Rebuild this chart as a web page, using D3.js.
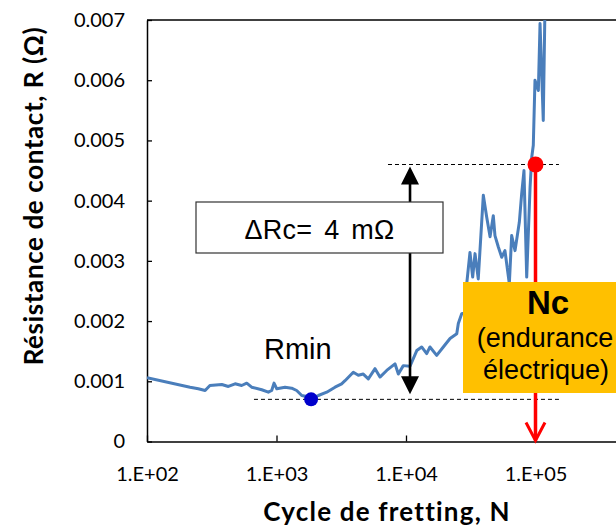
<!DOCTYPE html>
<html>
<head>
<meta charset="utf-8">
<script src="https://cdn.jsdelivr.net/npm/d3@7"></script>
<style>
  body { margin: 0; background: #fff; }
  svg { display: block; }
</style>
</head>
<body>
<svg class="svg" width="616" height="527"></svg>
<script>
// valeurs (N, R en ohm)
const cycles = [100, 215, 249, 281, 306, 378, 425, 479, 538, 589, 643, 769, 865, 918, 957,
  1005, 1164, 1309, 1432, 1567, 1710, 1871, 2104, 2443, 2831, 3184, 3381, 3917, 4285, 4677,
  5117, 5768, 6295, 7096, 8222, 8730, 9528, 10740, 12110, 13210, 14450, 15310, 17260, 19410,
  21880, 24660, 25350, 26920, 28580, 29440, 31190, 32730, 34120, 36140, 39540, 41980, 44570,
  47210, 48640, 51640, 54830, 58080, 62810, 65460, 69500, 74990, 78160, 81470, 85510, 90780,
  93540, 96160, 99080, 105200, 108400, 114800, 118300];
const resistance = [0.00106, 0.00090, 0.000875, 0.000847, 0.00093, 0.000947, 0.000914, 0.000958,
  0.00093, 0.000969, 0.000902, 0.000859, 0.000819, 0.000847, 0.000969,
  0.000875, 0.000902, 0.000886, 0.000847, 0.000764, 0.000748, 0.000709, 0.000764, 0.000819,
  0.000902, 0.000958, 0.00101, 0.00115, 0.0011, 0.00112,
  0.00104, 0.00121, 0.00107, 0.00118, 0.00129, 0.00112, 0.00126, 0.00125, 0.00151, 0.00157,
  0.00146, 0.00157, 0.00143, 0.00157,
  0.00171, 0.00179, 0.00196, 0.00212, 0.00215, 0.00262, 0.00314, 0.00273, 0.00312, 0.0027,
  0.00409, 0.00373, 0.0034,
  0.00375, 0.00342, 0.00323, 0.00306, 0.00317, 0.00262, 0.00342, 0.00317, 0.00364, 0.00411,
  0.0045, 0.00273, 0.00422,
  0.00472, 0.00492, 0.0060, 0.00583, 0.00694, 0.00533, 0.0072];

const xTicks = [1e2, 1e3, 1e4, 1e5];
const xTickLabels = ["1.E+02", "1.E+03", "1.E+04", "1.E+05"];
const yTicks = [0, 0.001, 0.002, 0.003, 0.004, 0.005, 0.006, 0.007];
const yTickLabels = ["0", "0.001", "0.002", "0.003", "0.004", "0.005", "0.006", "0.007"];

// points remarquables
const rminPoint = [1850, 0.0007];
const ncPoint = [1e5, 0.0046];
const deltaArrowN = 10740;

const svg = d3.select(".svg");

const x = d3.scaleLog().domain([1e2, 1e6]).range([147, 665]);
const y = d3.scaleLinear().domain([0, 0.007]).range([441.5, 20]);

svg.append("defs").append("clipPath").attr("id", "plotclip")
  .append("rect").attr("x", 147).attr("y", 20).attr("width", 520).attr("height", 422);

// axes
svg.append("g").attr("transform", "translate(147,0)")
  .call(d3.axisLeft(y).tickValues(yTicks).tickFormat((d, i) => yTickLabels[i])
    .tickSize(-5).tickSizeOuter(0).tickPadding(22));
svg.append("g").attr("transform", "translate(0,441.5)")
  .call(d3.axisBottom(x).tickValues(xTicks).tickFormat((d, i) => xTickLabels[i])
    .tickSize(-6).tickSizeOuter(0).tickPadding(25));
svg.selectAll(".tick text").attr("font-family", "Lato, sans-serif").attr("font-size", 20).attr("fill", "#000");
svg.selectAll(".tick line").attr("stroke", "#000").attr("stroke-width", 1.3);
svg.selectAll(".domain").attr("stroke", "#000").attr("stroke-width", 1.5);

// cadre haut
svg.append("line").attr("x1", 147).attr("x2", 665).attr("y1", y(0.007)).attr("y2", y(0.007))
  .attr("stroke", "#000").attr("stroke-width", 1.3);

// titres
svg.append("text").text("Cycle de fretting, N")
  .attr("x", 387).attr("y", 521).attr("text-anchor", "middle")
  .attr("font-family", "Lato, sans-serif").attr("font-weight", "bold").attr("font-size", 26)
  .attr("letter-spacing", 1.2);
svg.append("text").text("Résistance de contact, R (Ω)")
  .attr("transform", "translate(43,196) rotate(-90)").attr("text-anchor", "middle")
  .attr("font-family", "Lato, sans-serif").attr("font-weight", "bold").attr("font-size", 26)
  .attr("letter-spacing", 0.6);

// lignes pointillées
svg.append("line").attr("x1", x(670)).attr("x2", x(151700))
  .attr("y1", y(rminPoint[1])).attr("y2", y(rminPoint[1]))
  .attr("stroke", "#000").attr("stroke-width", 1).attr("stroke-dasharray", "4,3");
svg.append("line").attr("x1", x(7260)).attr("x2", x(151700))
  .attr("y1", y(ncPoint[1])).attr("y2", y(ncPoint[1]))
  .attr("stroke", "#000").attr("stroke-width", 1).attr("stroke-dasharray", "4,3");

// courbe
const data = cycles.map((n, i) => [n, resistance[i]]);
svg.append("path").datum(data)
  .attr("clip-path", "url(#plotclip)")
  .attr("fill", "none").attr("stroke", "#4a7ebb").attr("stroke-width", 3)
  .attr("stroke-linejoin", "round")
  .attr("d", d3.line().x(d => x(d[0])).y(d => y(d[1])));

// flèche double noire
const ax = x(deltaArrowN);
const yTop = y(ncPoint[1]) + 2, yBot = y(rminPoint[1]) - 5;
svg.append("line").attr("x1", ax).attr("x2", ax).attr("y1", yTop + 15).attr("y2", yBot - 15)
  .attr("stroke", "#000").attr("stroke-width", 2.6);
svg.append("path").attr("d", `M${ax},${yTop} L${ax - 9},${yTop + 18} L${ax + 9},${yTop + 18} Z`).attr("fill", "#000");
svg.append("path").attr("d", `M${ax},${yBot} L${ax - 9},${yBot - 18} L${ax + 9},${yBot - 18} Z`).attr("fill", "#000");

// boîte ΔRc
svg.append("rect").attr("x", 196).attr("y", 202).attr("width", 247).attr("height", 51)
  .attr("fill", "#fff").attr("stroke", "#333").attr("stroke-width", 1.2);
svg.append("text").text("ΔRc= 4 mΩ").attr("x", 319.5).attr("y", 239).attr("text-anchor", "middle")
  .attr("font-family", "'Liberation Sans', Arial, sans-serif").attr("font-size", 27)
  .attr("word-spacing", 4).attr("letter-spacing", 0.3);

// Rmin
svg.append("text").text("Rmin").attr("x", 264).attr("y", 359)
  .attr("font-family", "'Liberation Sans', Arial, sans-serif").attr("font-size", 29);
svg.append("circle").attr("cx", x(rminPoint[0])).attr("cy", y(rminPoint[1])).attr("r", 7).attr("fill", "#0000cc");

// Nc : ligne et flèche rouges
const nx = x(ncPoint[0]);
svg.append("line").attr("x1", nx).attr("x2", nx).attr("y1", y(ncPoint[1])).attr("y2", y(0) - 1)
  .attr("stroke", "#ff0000").attr("stroke-width", 3.5);
svg.append("path").attr("d", `M${nx - 9.5},${y(0) - 19} L${nx},${y(0) - 1} L${nx + 9.5},${y(0) - 19}`)
  .attr("fill", "none").attr("stroke", "#ff0000").attr("stroke-width", 3).attr("stroke-linejoin", "miter");
svg.append("circle").attr("cx", nx).attr("cy", y(ncPoint[1])).attr("r", 8).attr("fill", "#ff0000");

// boîte orange
svg.append("rect").attr("x", 463).attr("y", 282).attr("width", 170).attr("height", 111).attr("fill", "#ffc000");
const lab = svg.append("g").attr("font-family", "'Liberation Sans', Arial, sans-serif").attr("text-anchor", "middle");
lab.append("text").text("Nc").attr("x", 548).attr("y", 314).attr("font-weight", "bold").attr("font-size", 33);
lab.append("text").text("(endurance").attr("x", 545).attr("y", 347).attr("font-size", 27);
lab.append("text").text("électrique)").attr("x", 546).attr("y", 379).attr("font-size", 27);
</script>
</body>
</html>
